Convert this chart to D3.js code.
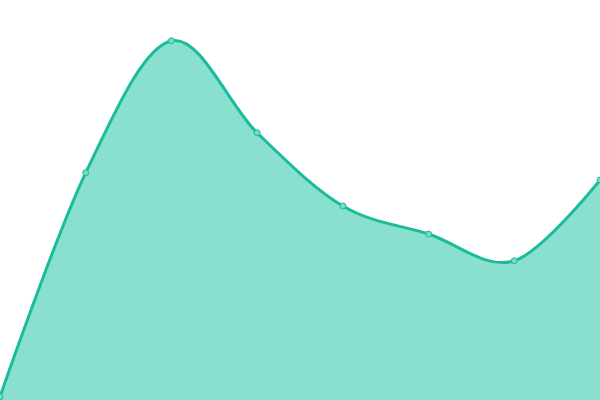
<!DOCTYPE html>
<html>
<head>
<meta charset="utf-8">
<script src="https://cdn.jsdelivr.net/npm/d3@7"></script>
<style>
  html, body { margin: 0; padding: 0; background: #fff; }
</style>
</head>
<body>
<div id="main"></div>
<script>
// one series, 8 evenly spaced samples
const categories = ['1', '2', '3', '4', '5', '6', '7', '8'];
const values = [0.8, 56.8, 89.8, 66.8, 48.5, 41.5, 34.8, 55.0];

const w = 600;
const h = 400;

let svg = d3.select('#main')
    .append('svg')
    .attr('width', w)
    .attr('height', h);

let xScale = d3.scalePoint()
    .domain(categories)
    .range([0, w]);

let yScale = d3.scaleLinear()
    .domain([0, 100])
    .range([h, 0]);

let area = d3.area()
    .x((d, i) => xScale(categories[i]))
    .y0(h)
    .y1(d => yScale(d))
    .curve(d3.curveCardinal);

let line = d3.line()
    .x((d, i) => xScale(categories[i]))
    .y(d => yScale(d))
    .curve(d3.curveCardinal);

svg.append('path')          // filled area
    .datum(values)
    .attr('d', area)
    .attr('fill', '#89e0cf');

svg.append('path')          // outline
    .datum(values)
    .attr('d', line)
    .attr('fill', 'none')
    .attr('stroke', '#1abc9c')
    .attr('stroke-width', 3);

svg.selectAll('circle')     // point markers
    .data(values)
    .enter()
    .append('circle')
    .attr('cx', (d, i) => xScale(categories[i]))
    .attr('cy', d => yScale(d))
    .attr('r', 3)
    .attr('fill', '#76d9c5')
    .attr('stroke', '#1abc9c')
    .attr('stroke-width', 1);
</script>
</body>
</html>
